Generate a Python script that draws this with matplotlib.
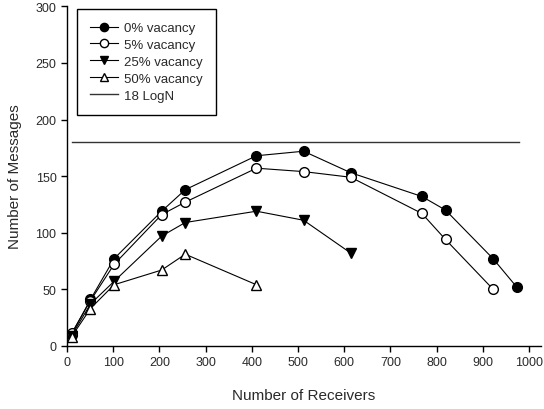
import matplotlib
matplotlib.use("Agg")
import matplotlib.pyplot as plt

plt.rcParams["font.family"] = ["Liberation Sans", "DejaVu Sans"]

# number of receivers at which each series was measured
receivers = [10, 51, 102, 205, 256, 410, 512, 614, 768, 819, 922, 973]

vac0 = [10, 41, 77, 119, 138, 168, 172, 153, 132, 120, 77, 52]
vac5 = [11, 40, 72, 116, 127, 157, 154, 149, 117, 94, 50]
vac25 = [9, 37, 57, 97, 109, 119, 111, 82]
vac50 = [8, 33, 54, 67, 81, 54]

log_bound = 180  # 18 * log2(1024)

text_color = "#2a2a2a"

fig = plt.figure(figsize=(5.44, 4.10), dpi=100)
ax = fig.add_axes([0.123, 0.154, 0.871, 0.828])

ms = 7
lw = 0.8
ax.plot(receivers, vac0, "-o", color="black", mfc="black", mec="black",
        ms=ms, lw=lw, label="0% vacancy")
ax.plot(receivers[:len(vac5)], vac5, "-o", color="black", mfc="white", mec="black",
        ms=ms, lw=lw, label="5% vacancy")
ax.plot(receivers[:len(vac25)], vac25, "-v", color="black", mfc="black", mec="black",
        ms=ms, lw=lw, label="25% vacancy")
ax.plot(receivers[:len(vac50)], vac50, "-^", color="black", mfc="white", mec="black",
        ms=ms, lw=lw, label="50% vacancy")
ax.plot([receivers[0], receivers[-1] + 5], [log_bound, log_bound], "-",
        color="#333333", lw=1.0, label="18 LogN")

ax.set_xlim(0, 1025)
ax.set_ylim(0, 300)
ax.set_xticks(range(0, 1001, 100))
ax.set_yticks(range(0, 301, 50))

for side in ("top", "right"):
    ax.spines[side].set_visible(False)
for side in ("left", "bottom"):
    ax.spines[side].set_linewidth(1.0)
ax.tick_params(direction="out", length=4, width=1.0, labelsize=9,
               colors="black", labelcolor=text_color)

ax.set_xlabel("Number of Receivers", fontsize=11, labelpad=14, color=text_color)
ax.set_ylabel("Number of Messages", fontsize=11, labelpad=10, color=text_color)

leg = ax.legend(loc="upper left", bbox_to_anchor=(0.021, 0.993), borderaxespad=0,
                fontsize=9.5, fancybox=False, edgecolor="black", framealpha=1,
                handlelength=2.1, handletextpad=0.5, labelspacing=0.35,
                borderpad=1.0, markerscale=0.85)
leg.get_frame().set_linewidth(1.0)
for t in leg.get_texts():
    t.set_color(text_color)

fig.savefig("out.png", dpi=100)
